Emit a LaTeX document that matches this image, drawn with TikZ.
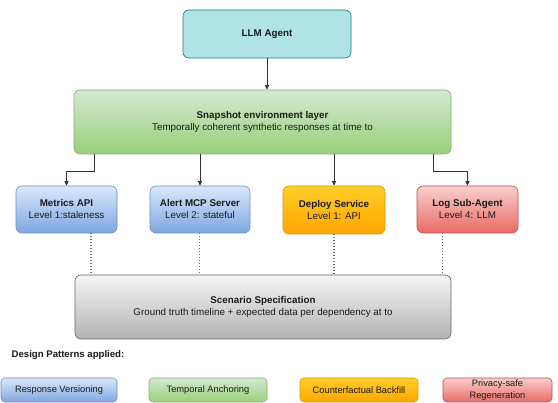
\documentclass[tikz,border=0pt]{standalone}
\usepackage{fontspec}
\setmainfont{Liberation Sans}
\usetikzlibrary{arrows.meta,calc}
\definecolor{txt}{HTML}{1A1A1A}
\definecolor{llmfill}{HTML}{B0E3E6}\definecolor{llmdraw}{HTML}{0E8088}
\definecolor{gtop}{HTML}{D5E8D4}\definecolor{gbot}{HTML}{97D077}\definecolor{gdraw}{HTML}{82B366}
\definecolor{btop}{HTML}{DAE8FC}\definecolor{bbot}{HTML}{7EA6E0}\definecolor{bdraw}{HTML}{6C8EBF}
\definecolor{otop}{HTML}{FFCD28}\definecolor{obot}{HTML}{FFA500}\definecolor{odraw}{HTML}{D79B00}
\definecolor{rtop}{HTML}{F8CECC}\definecolor{rbot}{HTML}{EA6B66}\definecolor{rdraw}{HTML}{B85450}
\definecolor{ytop}{HTML}{F5F5F5}\definecolor{ybot}{HTML}{B3B3B3}\definecolor{ydraw}{HTML}{666666}
\definecolor{linec}{HTML}{333333}
\definecolor{dotc}{HTML}{707070}
\tikzset{
  box/.style={rounded corners=6pt, line width=0.6pt, inner sep=0pt, align=center,
    text=txt, font=\fontsize{9.8}{12}\selectfont},
  llmbox/.style={box, fill=llmfill, draw=llmdraw},
  greenbox/.style={box, top color=gtop, bottom color=gbot, draw=gdraw},
  bluebox/.style={box, top color=btop, bottom color=bbot, draw=bdraw},
  orangebox/.style={box, top color=otop, bottom color=obot, draw=odraw},
  redbox/.style={box, top color=rtop, bottom color=rbot, draw=rdraw},
  graybox/.style={box, top color=ytop, bottom color=ybot, draw=ydraw},
  patbox/.style={rounded corners=4pt, font=\fontsize{9.3}{11.5}\selectfont},
  arr/.style={draw=linec, line width=0.7pt, -{Triangle[length=4.5pt,width=4pt]}},
  dotline/.style={draw=dotc, line width=1.1pt, dash pattern=on 1.1pt off 1.9pt},
}
\begin{document}
\begin{tikzpicture}[x=1pt,y=-1pt]
\useasboundingbox (0,0) rectangle (558,403);
\clip (0,0) rectangle (558,403);
\fill[white] (0,0) rectangle (558,403);

\node[llmbox, minimum width=168pt, minimum height=48pt] (llm) at (267,34) {\textbf{LLM Agent}};
\node[greenbox, minimum width=377pt, minimum height=64pt] (snap) at (262.5,122)
  {\textbf{Snapshot environment layer}\\Temporally coherent synthetic responses at time to};

\node[bluebox, minimum width=101pt, minimum height=47pt] (metrics) at (66.5,209.5)
  {\textbf{Metrics API}\\Level 1:staleness};
\node[bluebox, minimum width=100pt, minimum height=47pt] (alert) at (200,209.5)
  {\textbf{Alert MCP Server}\\Level 2: stateful};
\node[orangebox, minimum width=102pt, minimum height=48pt] (deploy) at (334,210)
  {\textbf{Deploy Service}\\Level 1: API};
\node[redbox, minimum width=101pt, minimum height=47pt] (log) at (467.5,209.5)
  {\textbf{Log Sub-Agent}\\Level 4: LLM};

\node[graybox, minimum width=376pt, minimum height=64pt] (scen) at (263,307)
  {\textbf{Scenario Specification}\\Ground truth timeline + expected data per dependency at to};

% connectors
\draw[arr] (llm.south) -- (llm.south |- snap.north);
\coordinate (s1) at ([xshift=20.5pt]snap.south west);
\coordinate (s2) at ([xshift=-62.5pt]snap.south);
\coordinate (s3) at ([xshift=71.5pt]snap.south);
\coordinate (s4) at ([xshift=-18pt]snap.south east);
\draw[arr] (s1) -- ++(0,17) -| (metrics.north);
\draw[arr] (s2) -- (s2 |- alert.north);
\draw[arr] (s3) -- (s3 |- deploy.north);
\draw[arr] (s4) -- ++(0,17) -| (log.north);

\coordinate (d1) at (91,0);
\coordinate (d2) at (199.5,0);
\coordinate (d3) at (334,0);
\coordinate (d4) at (442.5,0);
\draw[dotline] (metrics.south -| d1) -- (scen.north -| d1);
\draw[dotline] (alert.south -| d2) -- (scen.north -| d2);
\draw[dotline] (deploy.south -| d3) -- (scen.north -| d3);
\draw[dotline] (log.south -| d4) -- (scen.north -| d4);

% legend
\node[anchor=west, text=txt, font=\fontsize{9.6}{11}\selectfont\bfseries, inner sep=0pt] (dp) at (11.5,355) {Design Patterns applied:};
\node[bluebox, patbox, minimum width=116pt, minimum height=24pt] (rv) at (59,390) {Response Versioning};
\node[greenbox, patbox, minimum width=118pt, minimum height=24pt] (ta) at (208,390) {Temporal Anchoring};
\node[orangebox, patbox, minimum width=118pt, minimum height=24pt] (cb) at (359,390) {Counterfactual Backfill};
\node[redbox, patbox, minimum width=109pt, minimum height=24pt] (ps) at (497.5,390) {Privacy-safe\\Regeneration};
\end{tikzpicture}
\end{document}
